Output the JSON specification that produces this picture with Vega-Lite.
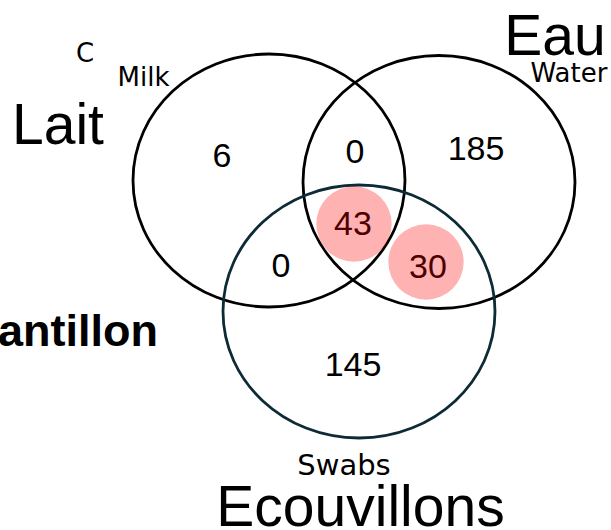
{
  "$schema": "https://vega.github.io/schema/vega-lite/v6.json",
  "width": 611,
  "height": 530,
  "padding": 0,
  "autosize": {"type": "none"},
  "background": "white",
  "config": {"view": {"stroke": null}},
  "datasets": {
    "sets": [
      {"set": "Milk", "x": 269, "y": 180.5},
      {"set": "Water", "x": 439, "y": 182},
      {"set": "Swabs", "x": 359, "y": 311.5}
    ],
    "counts": [
      {"region": "Milk only", "count": "6", "x": 222, "y": 167},
      {"region": "Milk and Water", "count": "0", "x": 355, "y": 163},
      {"region": "Water only", "count": "185", "x": 476, "y": 160},
      {"region": "All three", "count": "43", "x": 353, "y": 235},
      {"region": "Milk and Swabs", "count": "0", "x": 281, "y": 277},
      {"region": "Water and Swabs", "count": "30", "x": 428, "y": 278},
      {"region": "Swabs only", "count": "145", "x": 353, "y": 376}
    ],
    "highlights": [
      {"region": "All three", "x": 354, "y": 224},
      {"region": "Water and Swabs", "x": 426, "y": 262}
    ],
    "bigLabels": [
      {"label": "Lait", "x": 58, "y": 144},
      {"label": "Eau", "x": 555, "y": 55},
      {"label": "Ecouvillons", "x": 360.5, "y": 526}
    ],
    "smallLabels": [
      {"label": "C", "x": 85, "y": 62},
      {"label": "Milk", "x": 143.5, "y": 86},
      {"label": "Water", "x": 569, "y": 82}
    ],
    "swabsLabel": [
      {"label": "Swabs", "x": 344, "y": 475}
    ],
    "boldLabels": [
      {"label": "Echantillon", "x": 158, "y": 346}
    ]
  },
  "encoding": {
    "x": {"field": "x", "type": "quantitative", "scale": {"domain": [0, 611], "nice": false, "zero": false}, "axis": null},
    "y": {"field": "y", "type": "quantitative", "scale": {"domain": [0, 530], "nice": false, "zero": false, "reverse": true}, "axis": null}
  },
  "layer": [
    {
      "data": {"name": "sets"},
      "mark": {
        "type": "point",
        "shape": "M-1,0C-1,-0.5136,-0.5523,-0.93,0,-0.93C0.5523,-0.93,1,-0.5136,1,0C1,0.5136,0.5523,0.93,0,0.93C-0.5523,0.93,-1,0.5136,-1,0Z",
        "size": 73984,
        "filled": false,
        "strokeWidth": 2.8,
        "opacity": 1
      },
      "encoding": {
        "stroke": {"field": "set", "type": "nominal", "scale": {"domain": ["Milk", "Water", "Swabs"], "range": ["#000000", "#000000", "#0d2a37"]}, "legend": null}
      }
    },
    {
      "data": {"name": "counts"},
      "mark": {"type": "text", "font": "Liberation Sans", "fontSize": 34, "align": "center", "baseline": "alphabetic", "color": "#000000"},
      "encoding": {"text": {"field": "count", "type": "nominal"}}
    },
    {
      "data": {"name": "highlights"},
      "mark": {"type": "circle", "size": 5675, "color": "#ff0000", "fillOpacity": 0.3, "opacity": 1, "strokeWidth": 0}
    },
    {
      "data": {"name": "bigLabels"},
      "mark": {"type": "text", "font": "Liberation Sans", "fontSize": 57, "align": "center", "baseline": "alphabetic", "color": "#000000"},
      "encoding": {"text": {"field": "label", "type": "nominal"}}
    },
    {
      "data": {"name": "smallLabels"},
      "mark": {"type": "text", "font": "DejaVu Sans", "fontSize": 26, "align": "center", "baseline": "alphabetic", "color": "#000000"},
      "encoding": {"text": {"field": "label", "type": "nominal"}}
    },
    {
      "data": {"name": "swabsLabel"},
      "mark": {"type": "text", "font": "DejaVu Sans", "fontSize": 29, "align": "center", "baseline": "alphabetic", "color": "#000000"},
      "encoding": {"text": {"field": "label", "type": "nominal"}}
    },
    {
      "data": {"name": "boldLabels"},
      "mark": {"type": "text", "font": "Liberation Sans", "fontSize": 45, "fontWeight": "bold", "align": "right", "baseline": "alphabetic", "color": "#000000"},
      "encoding": {"text": {"field": "label", "type": "nominal"}}
    }
  ]
}
